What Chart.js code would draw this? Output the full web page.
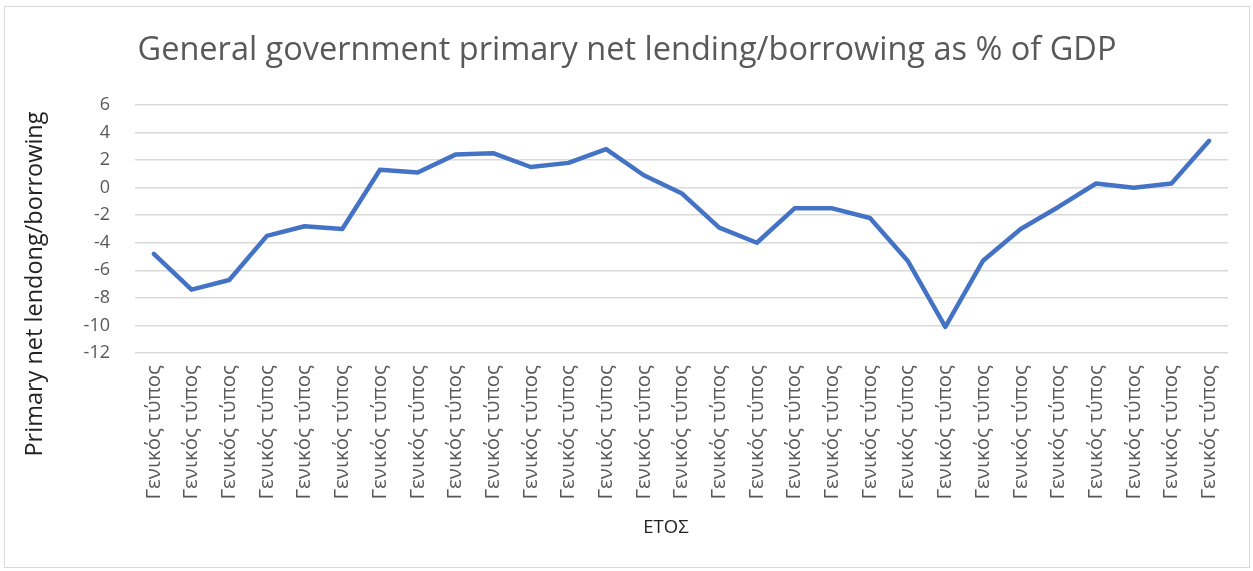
<!DOCTYPE html>
<html>
<head>
<meta charset="utf-8">
<script src="https://cdn.jsdelivr.net/npm/chart.js@4.4.1/dist/chart.umd.min.js"></script>
<style>
  html, body { margin: 0; padding: 0; background: #fff; }
  #wrap { position: absolute; left: 4px; top: 6px; width: 1246px; height: 562px; border: 1px solid #d9d9d9; box-sizing: border-box; }
  canvas { display: block; }
</style>
</head>
<body>
<div id="wrap"><canvas id="myChart" width="1244" height="560"></canvas></div>
<script>
const labels = Array(29).fill('Γενικός τύπος');
const values = [-4.8, -7.4, -6.7, -3.5, -2.8, -3.0, 1.3, 1.1, 2.4, 2.5, 1.5, 1.8, 2.8, 0.9, -0.4,
  -2.9, -4.0, -1.5, -1.5, -2.2, -5.3, -10.1, -5.3, -3.0, -1.4, 0.3, 0.0, 0.3, 3.4];
const yTicks = [6, 4, 2, 0, -2, -4, -6, -8, -10, -12];
const yTitle = 'Primary net lendong/borrowing';
const xTitle = 'ΕΤΟΣ';

const gray = '#595959';
const ctx = document.getElementById('myChart').getContext('2d');

// axis titles drawn where the original puts them
const axisTitles = {
    id: 'axisTitles',
    afterDraw(chart) {
        const c = chart.ctx;
        c.save();
        c.fillStyle = '#222';
        c.textAlign = 'center';
        c.textBaseline = 'middle';
        c.font = '23.5px "Open Sans"';
        c.translate(30, 277);
        c.rotate(-Math.PI / 2);
        c.fillText(yTitle, 0, 0);
        c.restore();

        c.save();
        c.fillStyle = '#222';
        c.textAlign = 'center';
        c.textBaseline = 'middle';
        c.font = '18.5px "Open Sans"';
        c.fillText(xTitle, 661, 521);
        c.restore();
    }
};

const myChart = new Chart(ctx, {
    type: 'line',
    data: {
        labels: labels,
        datasets: [{
            data: values,
            borderColor: '#4472C4',
            borderWidth: 4.5,
            pointRadius: 0,
            tension: 0,
            borderJoinStyle: 'round',
            borderCapStyle: 'round'
        }]
    },
    options: {
        responsive: false,
        animation: false,
        layout: { padding: 0 },
        plugins: {
            legend: { display: false },
            tooltip: { enabled: false },
            title: {
                display: true,
                text: 'General government primary net lending/borrowing as % of GDP',
                color: gray,
                font: { family: 'Open Sans', size: 32.5, weight: 'normal' },
                padding: { top: 24, bottom: 35 }
            }
        },
        scales: {
            x: {
                offset: true,
                afterFit: axis => { axis.height = 214; },
                grid: { display: false, drawTicks: false },
                border: { display: false },
                ticks: {
                    color: gray,
                    font: { family: 'Open Sans', size: 20.5 },
                    maxRotation: 90,
                    minRotation: 90,
                    autoSkip: false,
                    padding: 12
                }
            },
            y: {
                min: -12,
                max: 6,
                afterFit: axis => { axis.width = 130; },
                afterBuildTicks: axis => { axis.ticks = yTicks.map(v => ({ value: v })); },
                grid: { color: '#d9d9d9', lineWidth: 1.5, drawTicks: false },
                border: { display: false },
                ticks: {
                    color: gray,
                    font: { family: 'Open Sans', size: 18 },
                    padding: 25
                }
            },
            // empty right-hand axis, only reserves the right margin
            yRight: {
                position: 'right',
                afterFit: axis => { axis.width = 21; },
                grid: { display: false, drawTicks: false },
                border: { display: false },
                ticks: { display: false }
            }
        }
    },
    plugins: [axisTitles]
});
</script>
</body>
</html>
